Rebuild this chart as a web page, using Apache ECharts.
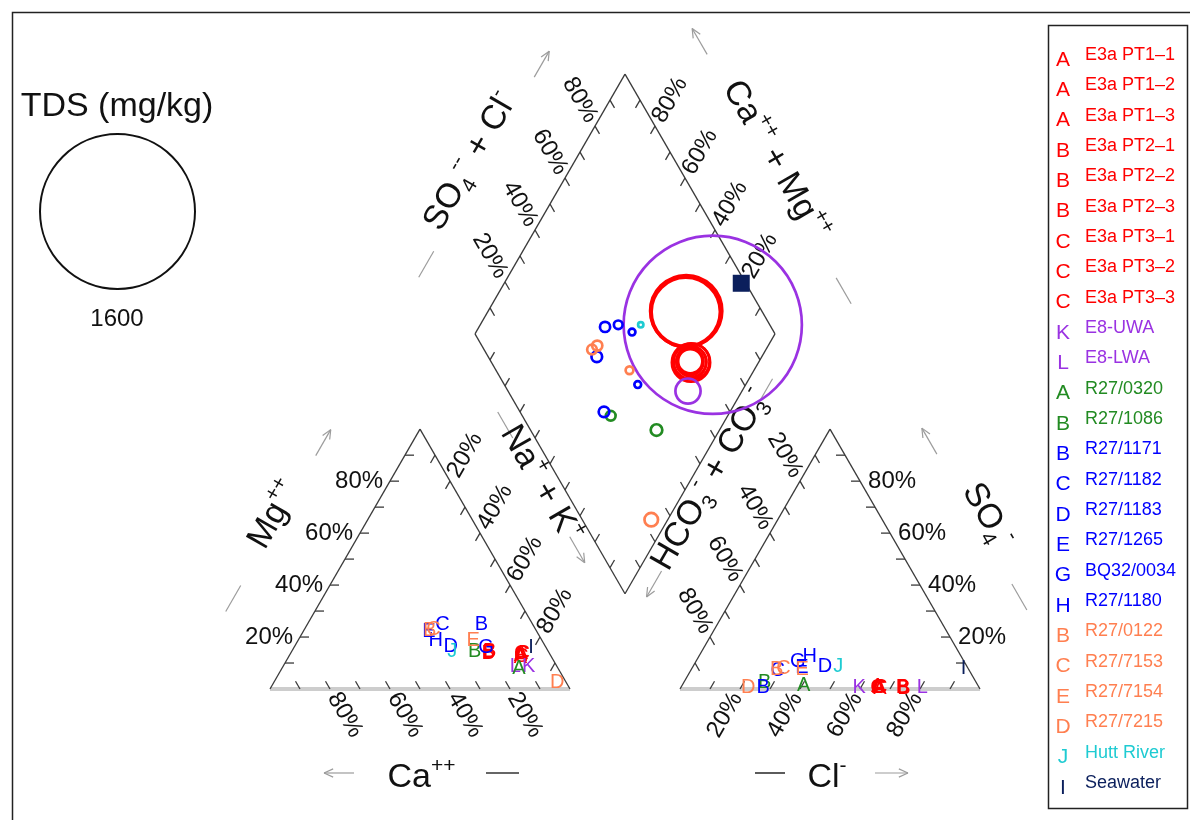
<!DOCTYPE html>
<html>
<head>
<meta charset="utf-8">
<title>Piper diagram</title>
<script src="https://cdn.jsdelivr.net/npm/echarts@6/dist/echarts.min.js"></script>
<style>
html, body { margin: 0; padding: 0; background: #fff; }
#chart { width: 1190px; height: 820px; }
</style>
</head>
<body>
<div id="chart"></div>
<script>
// ---- samples: major-ion composition, % of meq/L ----
const sampleNames = ['E3a PT1–1', 'E3a PT1–2', 'E3a PT1–3', 'E3a PT2–1', 'E3a PT2–2', 'E3a PT2–3',
  'E3a PT3–1', 'E3a PT3–2', 'E3a PT3–3', 'E8-UWA', 'E8-LWA', 'R27/0320', 'R27/1086', 'R27/1171',
  'R27/1182', 'R27/1183', 'R27/1265', 'BQ32/0034', 'R27/1180', 'R27/0122', 'R27/7153', 'R27/7154',
  'R27/7215', 'Hutt River', 'Seawater'];
const sampleLetters = ['A', 'A', 'A', 'B', 'B', 'B', 'C', 'C', 'C', 'K', 'L', 'A', 'B', 'B',
  'C', 'D', 'E', 'G', 'H', 'B', 'C', 'E', 'D', 'J', 'I'];
const sampleGroups = ['e3a', 'e3a', 'e3a', 'e3a', 'e3a', 'e3a', 'e3a', 'e3a', 'e3a', 'e8', 'e8',
  'r27a', 'r27a', 'r27b', 'r27b', 'r27b', 'r27b', 'r27b', 'r27b', 'r27c', 'r27c', 'r27c', 'r27c',
  'river', 'sea'];

// cations
const calcium = [10, 9.5, 10.5, 20, 20.5, 19.5, 9.5, 10, 9, 9.5, 14, 13, 24.5, 17,
  30, 31.5, 36, 20, 35.5, 35.5, 34, 23, 3, 32, 5];
const magnesium = [13, 13.5, 12, 14, 13.5, 14.5, 13.5, 12.5, 13.5, 8.5, 8.5, 8, 14.5, 25,
  25, 16.5, 22, 16, 18.5, 22.5, 23, 18.5, 2.5, 14.5, 16];
const sodiumPotassium = [77, 77, 77.5, 66, 66, 66, 77, 77.5, 77.5, 82, 77.5, 79, 61, 58,
  45, 52, 42, 64, 46, 42, 43, 58.5, 94.5, 53.5, 79];
// anions
const chloride = [66, 65.5, 66.5, 74, 74, 74.5, 65.5, 66.5, 66, 59.5, 80.5, 40.5, 27, 27.5,
  29, 44, 36.5, 34, 37, 28.5, 30.5, 37, 22.5, 48.5, 90.5];
const sulfate = [0.5, 0.8, 0.3, 0.5, 0.5, 0.3, 0.6, 0.4, 0.5, 0.5, 0.5, 1.5, 2.5, 0.5,
  7.2, 8.7, 8.2, 10.5, 12.5, 7.5, 8, 7.5, 0.5, 8.5, 8];
const bicarbonate = [33.5, 33.7, 33.2, 25.5, 25.5, 25.2, 33.9, 33.1, 33.5, 40, 19, 58, 70.5, 72,
  63.8, 47.3, 55.3, 55.5, 50.5, 64, 61.5, 55.5, 77, 43, 1.5];
// total dissolved solids, mg/kg (seawater is marked by a square instead)
const tdsValues = [250, 280, 310, 705, 725, 745, 340, 370, 395, 260, 1840, 120, 100, 110,
  110, 70, 105, 70, 90, 100, 105, 80, 140, 55, null];

const tickPercents = [20, 40, 60, 80];
const tdsReference = 1600;

// ---- styling ----
const groupStyle = {
  e3a:   { color: '#FF0000' },
  e8:    { color: '#9A32E2' },
  r27a:  { color: '#228B22' },
  r27b:  { color: '#0000FF' },
  r27c:  { color: '#FF7F50' },
  river: { color: '#1ECBD2' },
  sea:   { color: '#0B1F5C', square: true }
};
const FONT = '"Liberation Sans", Arial, Helvetica, sans-serif';
const DARK = '#3a3a3a';
const GRAY = '#9c9c9c';
const BASE_GRAY = '#cdcdcd';
const deg = Math.PI / 180;

// ---- Piper geometry (triangle side = 100 units) ----
const S = Math.sqrt(3) / 2;
const GAP = 110 / 3;
const R0 = 100 + GAP;
const DB = [100 + GAP / 2, GAP * S];
const TICK = 3;

function cationPoint(ca, mg, nak) {
  const t = ca + mg + nak;
  return [100 * (nak + mg / 2) / t, 100 * mg * S / t];
}
function anionPoint(cl, so4, hco3) {
  const t = cl + so4 + hco3;
  return [R0 + 100 * (cl + so4 / 2) / t, 100 * so4 * S / t];
}
function diamondPoint(a, b) {           // a = (Cl+SO4) share, b = (Ca+Mg) share
  return [DB[0] + 50 * (a - b), DB[1] + 100 * S * (a + b)];
}
function tdsDiameter(v) { return 155 * v / tdsReference; }

const add = (a, b) => [a[0] + b[0], a[1] + b[1]];
const mul = (a, k) => [a[0] * k, a[1] * k];
const lerp = (a, b, t) => [a[0] + (b[0] - a[0]) * t, a[1] + (b[1] - a[1]) * t];

const L0 = [0, 0], L1 = [100, 0], LA = [50, 100 * S];
const Q0 = [R0, 0], Q1 = [R0 + 100, 0], QA = [R0 + 50, 100 * S];
const DT = diamondPoint(1, 1), DLv = diamondPoint(0, 1), DRv = diamondPoint(1, 0), DBm = diamondPoint(0, 0);

// edges with 10 % ticks; p0 -> p1 runs from 0 % to 100 % of the edge variable
const tickEdges = [
  { p0: L0, p1: LA, inward: [1, 0], lab: { mode: 'right', dx: -2.3 } },
  { p0: LA, p1: L1, inward: [-0.5, -S], lab: { mode: 'rot', dir: [0.5, S], rot: 60 } },
  { p0: L1, p1: L0, inward: [-0.5, S], lab: { mode: 'rot', dir: [0.5, -S], rot: -60 } },
  { p0: Q0, p1: Q1, inward: [0.5, S], lab: { mode: 'rot', dir: [-0.5, -S], rot: 60 } },
  { p0: Q1, p1: QA, inward: [-1, 0], lab: { mode: 'left', dx: 2.7 } },
  { p0: QA, p1: Q0, inward: [0.5, -S], lab: { mode: 'rot', dir: [-0.5, S], rot: -60 } },
  { p0: DLv, p1: DT, inward: [0.5, -S], lab: { mode: 'rot', dir: [-0.5, S], rot: -60 } },
  { p0: DRv, p1: DT, inward: [-0.5, -S], lab: { mode: 'rot', dir: [0.5, S], rot: 60 } },
  { p0: DBm, p1: DLv, inward: [0.5, S] },
  { p0: DBm, p1: DRv, inward: [-0.5, S] }
];

// axis titles with their direction arrows and bars
const axisDecor = [
  { from: L0, to: LA, out: [-S, 0.5], title: 'Mg{sup|++}', at: 0.51, titleOff: 27.7, rot: 60, lineOff: 25.7, bar: [0.15, 0.25], arrow: [0.75, 0.85] },
  { from: L0, to: L1, out: [0, -1], title: 'Ca{sup|++}', at: 0.505, titleOff: 29.7, rot: 0, lineOff: 28, bar: [0.72, 0.83], barDark: true, arrow: [0.28, 0.18] },
  { from: L1, to: LA, out: [S, 0.5], title: 'Na{sup|+} + K{sup|+}', at: 0.64, titleOff: 25.7, rot: -60, lineOff: 25.3, bar: [0.82, 0.92], arrow: [0.44, 0.34] },
  { from: Q0, to: Q1, out: [0, -1], title: 'Cl{sup|-}', at: 0.49, titleOff: 29.7, rot: 0, lineOff: 28, bar: [0.25, 0.35], barDark: true, arrow: [0.65, 0.76] },
  { from: Q1, to: QA, out: [S, 0.5], title: 'SO{sub|4}{sup|-}', at: 0.49, titleOff: 31, rot: -60, lineOff: 26.7, bar: [0.15, 0.25], arrow: [0.75, 0.85] },
  { from: Q0, to: QA, out: [-S, 0.5], title: 'HCO{sub|3}{sup|-} + CO{sub|3}{sup|-}', at: 0.655, titleOff: 26, rot: 60, lineOff: 25, bar: [0.95, 1.05], arrow: [0.31, 0.21] },
  { from: DLv, to: DT, out: [-S, 0.5], title: 'SO{sub|4}{sup|--} + Cl{sup|-}', at: 0.49, titleOff: 30, rot: 60, lineOff: 25.7, bar: [0.07, 0.17], arrow: [0.84, 0.94] },
  { from: DRv, to: DT, out: [S, 0.5], title: 'Ca{sup|++} + Mg{sup|++}', at: 0.5, titleOff: 29, rot: -60, lineOff: 27, bar: [-0.04, 0.06], arrow: [0.92, 1.02] }
];

const titleRich = {
  sup: { fontSize: 21, lineHeight: 14, verticalAlign: 'top', fontFamily: FONT, fill: '#111' },
  sub: { fontSize: 21, lineHeight: 22, verticalAlign: 'bottom', fontFamily: FONT, fill: '#111' }
};

function textEl(p, str, o) {
  return {
    type: 'text', x: p[0], y: p[1], rotation: (o.rot || 0) * deg,
    style: {
      text: str, fill: o.fill || '#111', fontSize: o.size, fontFamily: FONT,
      align: o.align || 'center', verticalAlign: 'middle',
      textAlign: o.align || 'center', textVerticalAlign: 'middle',
      lineHeight: o.lh, rich: o.rich
    }
  };
}

function renderFrame(params, api) {
  const px = (p) => api.coord(p);
  const kids = [];
  const line = (a, b, stroke, w) => kids.push({
    type: 'line', shape: { x1: a[0], y1: a[1], x2: b[0], y2: b[1] },
    style: { stroke: stroke, lineWidth: w }
  });
  // triangle bases, then the dark sides
  line(px(L0), px(L1), BASE_GRAY, 4);
  line(px(Q0), px(Q1), BASE_GRAY, 4);
  line(px(L0), px(LA), DARK, 1.3); line(px(LA), px(L1), DARK, 1.3);
  line(px(Q0), px(QA), DARK, 1.3); line(px(QA), px(Q1), DARK, 1.3);
  line(px(DBm), px(DLv), DARK, 1.3); line(px(DLv), px(DT), DARK, 1.3);
  line(px(DT), px(DRv), DARK, 1.3); line(px(DRv), px(DBm), DARK, 1.3);

  for (const e of tickEdges) {
    for (let k = 1; k < 10; k++) {
      const p = lerp(e.p0, e.p1, k / 10);
      line(px(p), px(add(p, mul(e.inward, TICK))), DARK, 1.3);
    }
    if (!e.lab) continue;
    for (const v of tickPercents) {
      const p = lerp(e.p0, e.p1, v / 100);
      const txt = v + '%';
      if (e.lab.mode === 'rot') {
        kids.push(textEl(px(add(p, mul(e.lab.dir, 10))), txt, { size: 24, rot: e.lab.rot }));
      } else {
        kids.push(textEl(px(add(p, [e.lab.dx, 0])), txt, { size: 24, align: e.lab.mode }));
      }
    }
  }

  for (const d of axisDecor) {
    const at = (t, off) => add(lerp(d.from, d.to, t), mul(d.out, off));
    line(px(at(d.bar[0], d.lineOff)), px(at(d.bar[1], d.lineOff)), d.barDark ? '#333' : GRAY, d.barDark ? 1.6 : 1.2);
    const a = px(at(d.arrow[0], d.lineOff)), b = px(at(d.arrow[1], d.lineOff));
    line(a, b, GRAY, 1.2);
    const ang = Math.atan2(a[1] - b[1], a[0] - b[0]);
    for (const s of [-1, 1]) {
      const h = ang + s * 0.42;
      line(b, [b[0] + 10 * Math.cos(h), b[1] + 10 * Math.sin(h)], GRAY, 1.2);
    }
    kids.push(textEl(px(at(d.at, d.titleOff)), d.title, { size: 34, rot: d.rot, rich: titleRich, lh: 44 }));
  }
  return { type: 'group', children: kids };
}

// ---- plotted positions ----
const idx = sampleNames.map((_, i) => i);
const cationData = idx.map(i => cationPoint(calcium[i], magnesium[i], sodiumPotassium[i]).concat(i));
const anionData = idx.map(i => anionPoint(chloride[i], sulfate[i], bicarbonate[i]).concat(i));
const diamondData = idx.map(i => {
  const ct = calcium[i] + magnesium[i] + sodiumPotassium[i];
  const at = chloride[i] + sulfate[i] + bicarbonate[i];
  const a = (chloride[i] + sulfate[i]) / at;
  const b = (calcium[i] + magnesium[i]) / ct;
  return diamondPoint(a, b).concat(i);
});

function renderLetter(params, api) {
  const i = api.value(2);
  const c = api.coord([api.value(0), api.value(1)]);
  return textEl(c, sampleLetters[i], { size: 20, fill: groupStyle[sampleGroups[i]].color });
}
function renderDiamondMark(params, api) {
  const i = api.value(2);
  const c = api.coord([api.value(0), api.value(1)]);
  const g = groupStyle[sampleGroups[i]];
  if (g.square) {
    return { type: 'rect', shape: { x: c[0] - 8.5, y: c[1] - 8.5, width: 17, height: 17 }, style: { fill: g.color } };
  }
  return {
    type: 'circle', shape: { cx: c[0], cy: c[1], r: tdsDiameter(tdsValues[i]) / 2 },
    style: { fill: 'none', stroke: g.color, lineWidth: 2.7 }
  };
}

// ---- legend and TDS key (page layout) ----
const graphics = [
  { type: 'rect', shape: { x: 12.5, y: 12.5, width: 1200, height: 830 }, style: { fill: 'none', stroke: '#222', lineWidth: 1.5 } },
  { type: 'rect', shape: { x: 1048.5, y: 25.5, width: 139, height: 783 }, style: { fill: 'none', stroke: '#222', lineWidth: 1.5 } },
  { type: 'text', x: 117, y: 107, style: { text: 'TDS (mg/kg)', fontSize: 34, fontFamily: FONT, fill: '#111', align: 'center', verticalAlign: 'middle', textAlign: 'center', textVerticalAlign: 'middle' } },
  { type: 'circle', shape: { cx: 117.5, cy: 211.5, r: tdsDiameter(tdsReference) / 2 }, style: { fill: 'none', stroke: '#111', lineWidth: 2 } },
  { type: 'text', x: 117, y: 319, style: { text: String(tdsReference), fontSize: 24, fontFamily: FONT, fill: '#111', align: 'center', verticalAlign: 'middle', textAlign: 'center', textVerticalAlign: 'middle' } }
];
idx.forEach(i => {
  const y = 60 + i * 30.33;
  const col = groupStyle[sampleGroups[i]].color;
  graphics.push({ type: 'text', x: 1063, y: y, style: { text: sampleLetters[i], fontSize: 21, fontFamily: FONT, fill: col, align: 'center', verticalAlign: 'middle', textAlign: 'center', textVerticalAlign: 'middle' } });
  graphics.push({ type: 'text', x: 1085, y: y - 5, style: { text: sampleNames[i], fontSize: 18, fontFamily: FONT, fill: col, align: 'left', verticalAlign: 'middle', textAlign: 'left', textVerticalAlign: 'middle' } });
});

const chart = echarts.init(document.getElementById('chart'), null, { renderer: 'canvas', width: 1190, height: 820 });
chart.setOption({
  animation: false,
  backgroundColor: '#ffffff',
  grid: { left: 0, right: 0, top: 0, bottom: 0 },
  xAxis: { type: 'value', min: -90, max: 306.6667, show: false },
  yAxis: { type: 'value', min: -43.6667, max: 229.6667, show: false },
  graphic: graphics,
  series: [
    { type: 'custom', name: 'frame', silent: true, z: 1, data: [[0, 0]], renderItem: renderFrame },
    { type: 'custom', name: 'diamond', silent: true, z: 3, data: diamondData, renderItem: renderDiamondMark },
    { type: 'custom', name: 'cations', silent: true, z: 4, data: cationData, renderItem: renderLetter },
    { type: 'custom', name: 'anions', silent: true, z: 4, data: anionData, renderItem: renderLetter }
  ]
});
</script>
</body>
</html>
